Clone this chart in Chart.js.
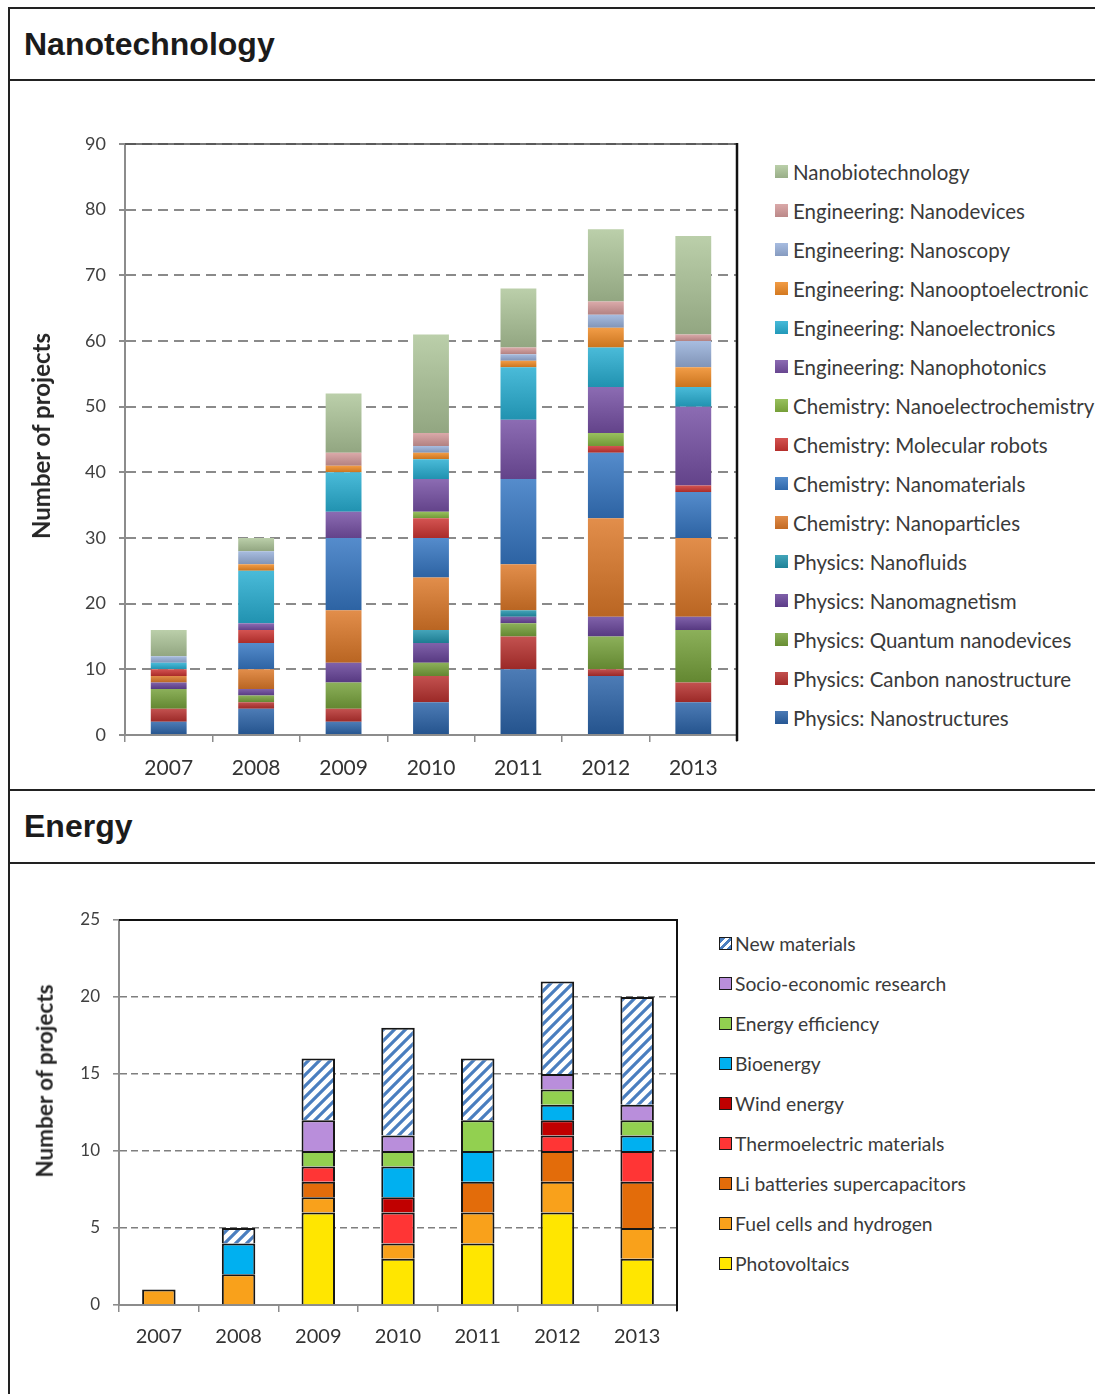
<!DOCTYPE html>
<html>
<head>
<meta charset="utf-8">
<script src="https://cdn.jsdelivr.net/npm/chart.js@4.4.1/dist/chart.umd.min.js"></script>
<style>
  body { margin: 0; background: #fff; width: 1095px; height: 1394px; position: relative; overflow: hidden; font-family: Lato, sans-serif; }
  .hl { position: absolute; left: 8px; right: 0; height: 2px; background: #222; }
  .vl { position: absolute; left: 8px; top: 7px; bottom: 0; width: 2px; background: #222; }
  .head { position: absolute; left: 24px; height: 32px; font: bold 32px "Liberation Sans", Arial, sans-serif; line-height: 32px; color: #1b1b1b; }
  canvas { position: absolute; }
  .ytitle { position: absolute; font-family: Lato, sans-serif; font-weight: bold; color: #262626; white-space: nowrap;
            line-height: 1; transform: translate(-50%, -50%) rotate(-90deg); }
  .legend { position: absolute; color: #3a3a3a; font-family: Lato, sans-serif; }
  .legend div { display: flex; align-items: center; white-space: nowrap; }
  .legend span.box { display: inline-block; flex: none; }
</style>
</head>
<body>
<div class="vl"></div>
<div class="hl" style="top:7px"></div>
<div class="hl" style="top:79px"></div>
<div class="hl" style="top:789px"></div>
<div class="hl" style="top:862px"></div>
<div class="head" style="top:28px">Nanotechnology</div>
<div class="head" style="top:810px">Energy</div>

<canvas id="nano" width="740" height="707" style="left:10px;top:82px"></canvas>
<div class="ytitle" style="left:41px;top:436px;font-size:24px">Number of projects</div>
<div id="nanoLegend" class="legend" style="left:775px;top:152px"></div>
<canvas id="energy" width="680" height="530" style="left:10px;top:864px"></canvas>
<div class="ytitle" style="left:45px;top:1081px;font-size:22.5px">Number of projects</div>
<div id="energyLegend" class="legend" style="left:719px;top:923px"></div>

<script>
let years = ['2007', '2008', '2009', '2010', '2011', '2012', '2013'];

// Nanotechnology, stacked bottom to top
let physNanostructures = [2, 4, 2, 5, 10, 9, 5];
let physCarbon = [2, 1, 2, 4, 5, 1, 3];
let physQuantum = [3, 1, 4, 2, 2, 5, 8];
let physMagnetism = [1, 1, 3, 3, 1, 3, 2];
let physFluids = [0, 0, 0, 2, 1, 0, 0];
let chemParticles = [1, 3, 8, 8, 7, 15, 12];
let chemMaterials = [0, 4, 11, 6, 13, 10, 7];
let chemRobots = [1, 2, 0, 3, 0, 1, 1];
let chemElectrochem = [0, 0, 0, 1, 0, 2, 0];
let engPhotonics = [0, 1, 4, 5, 9, 7, 12];
let engElectronics = [1, 8, 6, 3, 8, 6, 3];
let engOptoelectronic = [0, 1, 1, 1, 1, 3, 3];
let engScopy = [1, 2, 0, 1, 1, 2, 4];
let engDevices = [0, 0, 2, 2, 1, 2, 1];
let nanobio = [4, 2, 9, 15, 9, 11, 15];

let nanoNames = ['Physics: Nanostructures', 'Physics: Canbon nanostructure', 'Physics: Quantum nanodevices',
    'Physics: Nanomagnetism', 'Physics: Nanofluids', 'Chemistry: Nanoparticles', 'Chemistry: Nanomaterials',
    'Chemistry: Molecular robots', 'Chemistry: Nanoelectrochemistry', 'Engineering: Nanophotonics',
    'Engineering: Nanoelectronics', 'Engineering: Nanooptoelectronic', 'Engineering: Nanoscopy',
    'Engineering: Nanodevices', 'Nanobiotechnology'];
let nanoSeries = [physNanostructures, physCarbon, physQuantum, physMagnetism, physFluids, chemParticles,
    chemMaterials, chemRobots, chemElectrochem, engPhotonics, engElectronics, engOptoelectronic, engScopy,
    engDevices, nanobio];
let nanoColors = ['#2B63A8', '#B8312F', '#76A13A', '#68449A', '#2294AD', '#DC7829', '#3576C2', '#CC3431',
    '#86B540', '#7650A4', '#27AED2', '#F08A24', '#98B0DA', '#D49A9A', '#AEC69A'];

// Energy, stacked bottom to top
let photovoltaics = [0, 0, 6, 3, 4, 6, 3];
let fuelCells = [1, 2, 1, 1, 2, 2, 2];
let liBatteries = [0, 0, 1, 0, 2, 2, 3];
let thermoelectric = [0, 0, 1, 2, 0, 1, 2];
let windEnergy = [0, 0, 0, 1, 0, 1, 0];
let bioenergy = [0, 2, 0, 2, 2, 1, 1];
let energyEfficiency = [0, 0, 1, 1, 2, 1, 1];
let socioEconomic = [0, 0, 2, 1, 0, 1, 1];
let newMaterials = [0, 1, 4, 7, 4, 6, 7];

let energyNames = ['Photovoltaics', 'Fuel cells and hydrogen', 'Li batteries supercapacitors',
    'Thermoelectric materials', 'Wind energy', 'Bioenergy', 'Energy efficiency',
    'Socio-economic research', 'New materials'];
let energySeries = [photovoltaics, fuelCells, liBatteries, thermoelectric, windEnergy, bioenergy,
    energyEfficiency, socioEconomic, newMaterials];
let energyColors = ['#FFE600', '#F9A11B', '#E36C0A', '#FF3535', '#C00000', '#00B0F0', '#92D050', '#B98EDB', 'hatch'];
let hatchColor = '#4A7EBF';


function mix(hex, other, t) {
    let a = parseInt(hex.slice(1), 16), b = parseInt(other.slice(1), 16);
    let r = Math.round(((a >> 16) & 255) * (1 - t) + ((b >> 16) & 255) * t);
    let g = Math.round(((a >> 8) & 255) * (1 - t) + ((b >> 8) & 255) * t);
    let bl = Math.round((a & 255) * (1 - t) + (b & 255) * t);
    return 'rgb(' + r + ',' + g + ',' + bl + ')';
}

// vertical shading per stacked segment, like the old office charts
function segmentFill(i) {
    return function (ctx) {
        let base = nanoColors[i];
        let chart = ctx.chart;
        if (ctx.type !== 'data' || !chart.chartArea) return base;
        let y = chart.scales.y;
        let below = 0;
        for (let k = 0; k < i; k++) below += nanoSeries[k][ctx.dataIndex];
        let v = nanoSeries[i][ctx.dataIndex];
        let y0 = y.getPixelForValue(below), y1 = y.getPixelForValue(below + v);
        if (!(y0 - y1 > 0.5)) return base;
        let g = chart.ctx.createLinearGradient(0, y1, 0, y0);
        g.addColorStop(0, mix(base, '#ffffff', 0.16));
        g.addColorStop(1, mix(base, '#000000', 0.16));
        return g;
    };
}

function hatchPattern() {
    let c = document.createElement('canvas');
    c.width = 11; c.height = 11;
    let g = c.getContext('2d');
    g.fillStyle = '#fff';
    g.fillRect(0, 0, 11, 11);
    g.strokeStyle = hatchColor;
    g.lineWidth = 3.2;
    g.beginPath();
    g.moveTo(-5.5, 5.5); g.lineTo(5.5, -5.5);
    g.moveTo(0, 11); g.lineTo(11, 0);
    g.moveTo(5.5, 16.5); g.lineTo(16.5, 5.5);
    g.stroke();
    return document.getElementById('energy').getContext('2d').createPattern(c, 'repeat');
}

let framePlugin = {
    id: 'frame',
    afterDatasetsDraw(chart, args, o) {
        let ctx = chart.ctx, a = chart.chartArea;
        ctx.save();
        ctx.strokeStyle = o.topColor;
        ctx.lineWidth = o.topWidth;
        ctx.beginPath(); ctx.moveTo(a.left, a.top); ctx.lineTo(a.right, a.top); ctx.stroke();
        ctx.strokeStyle = o.rightColor;
        ctx.lineWidth = o.rightWidth;
        ctx.beginPath(); ctx.moveTo(a.right, a.top - 1); ctx.lineTo(a.right, a.bottom + 6); ctx.stroke();
        ctx.restore();
    }
};

function axes(cfg) {
    return {
        x: {
            stacked: true,
            afterFit: s => { s.height = cfg.xHeight; },
            grid: { drawOnChartArea: false, drawTicks: true, tickLength: 7, color: '#8c8c8c', lineWidth: 1.5 },
            border: { color: '#8c8c8c', width: 2 },
            ticks: { color: '#333', padding: cfg.xPad, font: { family: 'Lato', size: cfg.xSize } }
        },
        y: {
            stacked: true,
            min: 0,
            max: cfg.max,
            afterFit: s => { s.width = cfg.yWidth; },
            grid: { color: cfg.gridColor, lineWidth: cfg.gridWidth, tickLength: 6, tickBorderDash: [], tickColor: '#8c8c8c' },
            border: { color: '#8c8c8c', width: 2, dash: cfg.dash },
            ticks: { stepSize: cfg.step, color: '#404040', padding: 13, font: { family: 'Lato', size: cfg.ySize } }
        }
    };
}

let nanoChart = new Chart(document.getElementById('nano'), {
    type: 'bar',
    data: {
        labels: years,
        datasets: nanoSeries.map((d, i) => ({
            label: nanoNames[i],
            data: d,
            backgroundColor: segmentFill(i),
            borderWidth: 0,
            barPercentage: 0.82,
            categoryPercentage: 0.5
        }))
    },
    options: {
        responsive: false,
        animation: false,
        layout: { padding: { left: 14, top: 62, right: 13, bottom: 0 } },
        plugins: {
            legend: { display: false },
            tooltip: { enabled: false },
            frame: { topColor: '#4a4a4a', topWidth: 1.5, rightColor: '#111', rightWidth: 2.5 }
        },
        scales: axes({ max: 90, step: 10, xHeight: 54, xPad: 14, xSize: 21, yWidth: 101, ySize: 18,
            dash: [10, 6], gridWidth: 2, gridColor: '#8a8a8a' })
    },
    plugins: [framePlugin]
});

let hatch = hatchPattern();

let energyChart = new Chart(document.getElementById('energy'), {
    type: 'bar',
    data: {
        labels: years,
        datasets: energySeries.map((d, i) => ({
            label: energyNames[i],
            data: d,
            backgroundColor: energyColors[i] === 'hatch' ? hatch : energyColors[i],
            borderColor: '#161616',
            borderWidth: 2,
            barPercentage: 0.84,
            categoryPercentage: 0.5
        }))
    },
    options: {
        responsive: false,
        animation: false,
        layout: { padding: { left: 20, top: 56, right: 13, bottom: 39 } },
        plugins: {
            legend: { display: false },
            tooltip: { enabled: false },
            frame: { topColor: '#111', topWidth: 2, rightColor: '#111', rightWidth: 2 }
        },
        scales: axes({ max: 25, step: 5, xHeight: 50, xPad: 13, xSize: 20, yWidth: 89, ySize: 17,
            dash: [7, 4], gridWidth: 1.6, gridColor: '#7f7f7f' })
    },
    plugins: [framePlugin]
});


// legends, top entry = last series
let nanoLegend = document.getElementById('nanoLegend');
for (let i = nanoNames.length - 1; i >= 0; i--) {
    let row = document.createElement('div');
    row.style.height = '39px';
    row.style.fontSize = '20.5px';
    row.innerHTML = '<span class="box" style="width:13px;height:13px;margin-right:5px;background:linear-gradient(' +
        mix(nanoColors[i], '#ffffff', 0.15) + ',' + mix(nanoColors[i], '#000000', 0.12) + ')"></span>' + nanoNames[i];
    nanoLegend.appendChild(row);
}

let energyLegend = document.getElementById('energyLegend');
for (let i = energyNames.length - 1; i >= 0; i--) {
    let row = document.createElement('div');
    row.style.height = '40px';
    row.style.fontSize = '19.3px';
    let fill = energyColors[i] === 'hatch'
        ? 'repeating-linear-gradient(-45deg,' + hatchColor + ' 0 3px,#fff 3px 6px)'
        : energyColors[i];
    row.innerHTML = '<span class="box" style="width:11px;height:11px;border:1.5px solid #1a1a1a;margin-right:3px;background:' +
        fill + '"></span>' + energyNames[i];
    energyLegend.appendChild(row);
}
</script>
</body>
</html>
